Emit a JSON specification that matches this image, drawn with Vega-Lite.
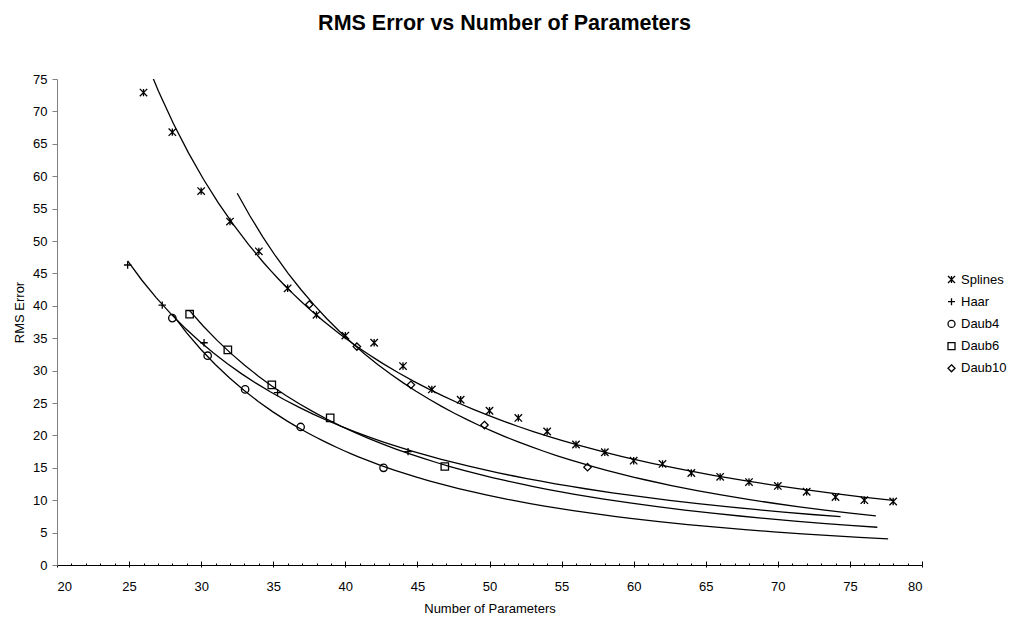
{
  "$schema": "https://vega.github.io/schema/vega-lite/v6.json",
  "width": 865,
  "height": 486,
  "autosize": {"type": "none"},
  "padding": {"left": 57, "top": 79, "right": 90, "bottom": 53},
  "background": "white",
  "title": {
    "text": "RMS Error vs Number of Parameters",
    "font": "Liberation Sans",
    "fontSize": 21.5,
    "fontWeight": "bold",
    "color": "black",
    "anchor": "middle",
    "baseline": "alphabetic",
    "dx": 15,
    "offset": 22
  },
  "config": {
    "view": {"stroke": null},
    "axis": {
      "grid": false,
      "labelFont": "Liberation Sans",
      "titleFont": "Liberation Sans",
      "labelColor": "black",
      "titleColor": "black",
      "titleFontWeight": "normal",
      "labelFontSize": 13,
      "titleFontSize": 13
    },
    "legend": {
      "labelFont": "Liberation Sans",
      "labelFontSize": 13,
      "labelColor": "black"
    }
  },
  "data": {
    "values": [
      {"series": "Splines", "n": 26, "rms": 72.9},
      {"series": "Splines", "n": 28, "rms": 66.8},
      {"series": "Splines", "n": 30, "rms": 57.7},
      {"series": "Splines", "n": 32, "rms": 53.0},
      {"series": "Splines", "n": 34, "rms": 48.4},
      {"series": "Splines", "n": 36, "rms": 42.7},
      {"series": "Splines", "n": 38, "rms": 38.6},
      {"series": "Splines", "n": 40, "rms": 35.4},
      {"series": "Splines", "n": 42, "rms": 34.3},
      {"series": "Splines", "n": 44, "rms": 30.7},
      {"series": "Splines", "n": 46, "rms": 27.1},
      {"series": "Splines", "n": 48, "rms": 25.5},
      {"series": "Splines", "n": 50, "rms": 23.8},
      {"series": "Splines", "n": 52, "rms": 22.7},
      {"series": "Splines", "n": 54, "rms": 20.6},
      {"series": "Splines", "n": 56, "rms": 18.6},
      {"series": "Splines", "n": 58, "rms": 17.4},
      {"series": "Splines", "n": 60, "rms": 16.1},
      {"series": "Splines", "n": 62, "rms": 15.6},
      {"series": "Splines", "n": 64, "rms": 14.2},
      {"series": "Splines", "n": 66, "rms": 13.6},
      {"series": "Splines", "n": 68, "rms": 12.8},
      {"series": "Splines", "n": 70, "rms": 12.2},
      {"series": "Splines", "n": 72, "rms": 11.3},
      {"series": "Splines", "n": 74, "rms": 10.5},
      {"series": "Splines", "n": 76, "rms": 10.0},
      {"series": "Splines", "n": 78, "rms": 9.8},
      {"series": "Haar", "n": 24.9, "rms": 46.3},
      {"series": "Haar", "n": 27.3, "rms": 40.1},
      {"series": "Haar", "n": 30.2, "rms": 34.3},
      {"series": "Haar", "n": 35.3, "rms": 26.6},
      {"series": "Haar", "n": 44.35, "rms": 17.5},
      {"series": "Daub4", "n": 28.0, "rms": 38.1},
      {"series": "Daub4", "n": 30.45, "rms": 32.3},
      {"series": "Daub4", "n": 33.05, "rms": 27.1},
      {"series": "Daub4", "n": 36.9, "rms": 21.3},
      {"series": "Daub4", "n": 42.65, "rms": 15.0},
      {"series": "Daub6", "n": 29.2, "rms": 38.7},
      {"series": "Daub6", "n": 31.85, "rms": 33.2},
      {"series": "Daub6", "n": 34.9, "rms": 27.8},
      {"series": "Daub6", "n": 38.95, "rms": 22.7},
      {"series": "Daub6", "n": 46.9, "rms": 15.2},
      {"series": "Daub10", "n": 37.5, "rms": 40.2},
      {"series": "Daub10", "n": 40.8, "rms": 33.7},
      {"series": "Daub10", "n": 44.55, "rms": 27.8},
      {"series": "Daub10", "n": 49.65, "rms": 21.6},
      {"series": "Daub10", "n": 56.8, "rms": 15.1}
    ]
  },
  "encoding": {
    "x": {
      "field": "n",
      "type": "quantitative",
      "scale": {"domain": [20, 80], "nice": false, "zero": false},
      "axis": {
        "orient": "bottom",
        "values": [20, 25, 30, 35, 40, 45, 50, 55, 60, 65, 70, 75, 80],
        "tickSize": 2,
        "tickColor": "black",
        "domainColor": "black",
        "labelPadding": 13,
        "title": "Number of Parameters",
        "titlePadding": 9
      }
    },
    "y": {
      "field": "rms",
      "type": "quantitative",
      "scale": {"domain": [0, 75], "nice": false, "zero": true},
      "axis": {
        "values": [0, 5, 10, 15, 20, 25, 30, 35, 40, 45, 50, 55, 60, 65, 70, 75],
        "tickSize": 5,
        "tickColor": "#808080",
        "domainColor": "#808080",
        "labelPadding": 5,
        "title": "RMS Error",
        "titlePadding": 6,
        "titleY": 233
      }
    }
  },
  "layer": [
    {
      "mark": {"type": "point", "filled": false, "color": "black", "strokeWidth": 1.3, "size": 55, "opacity": 1},
      "encoding": {
        "shape": {
          "field": "series",
          "type": "nominal",
          "scale": {
            "domain": ["Splines", "Haar", "Daub4", "Daub6", "Daub10"],
            "range": [
              "M-1,-1L1,1M-1,1L1,-1M0,-1L0,1",
              "M-1,0L1,0M0,-1L0,1",
              "M1,0A1,1,0,1,1,-1,0A1,1,0,1,1,1,0Z",
              "M-1,-1L1,-1L1,1L-1,1Z",
              "M0,-1L1,0L0,1L-1,0Z"
            ]
          },
          "legend": {
            "title": null,
            "orient": "none",
            "legendX": 888,
            "legendY": 194,
            "padding": 0,
            "rowPadding": 8.2,
            "labelOffset": 3,
            "symbolSize": 49,
            "symbolStrokeColor": "black",
            "symbolStrokeWidth": 1.3,
            "symbolFillColor": "transparent"
          }
        }
      }
    },
    {
      "transform": [
        {"filter": "datum.series === 'Splines'"},
        {"regression": "rms", "on": "n", "method": "pow", "extent": [26, 78]}
      ],
      "mark": {"type": "line", "clip": true, "color": "black", "strokeWidth": 1.3},
      "encoding": {
        "x": {
          "field": "n",
          "type": "quantitative",
          "scale": {"domain": [20, 80], "nice": false, "zero": false},
          "axis": {
            "orient": "bottom",
            "values": [20, 21, 22, 23, 24, 25, 26, 27, 28, 29, 30, 31, 32, 33, 34, 35, 36, 37, 38, 39, 40, 41, 42, 43, 44, 45, 46, 47, 48, 49, 50, 51, 52, 53, 54, 55, 56, 57, 58, 59, 60, 61, 62, 63, 64, 65, 66, 67, 68, 69, 70, 71, 72, 73, 74, 75, 76, 77, 78, 79, 80],
            "tickSize": {"condition": {"test": "datum.value % 5 === 0", "value": -4}, "value": -2},
            "tickColor": "black",
            "domain": false,
            "labels": false,
            "title": null
          }
        }
      }
    },
    {
      "transform": [
        {"filter": "datum.series === 'Haar'"},
        {"regression": "rms", "on": "n", "method": "pow", "extent": [24.9, 74.35]}
      ],
      "mark": {"type": "line", "clip": true, "color": "black", "strokeWidth": 1.3},
      "encoding": {
        "x": {"field": "n", "type": "quantitative", "scale": {"domain": [20, 80], "nice": false, "zero": false}, "axis": null}
      }
    },
    {
      "transform": [
        {"filter": "datum.series === 'Daub4'"},
        {"regression": "rms", "on": "n", "method": "pow", "extent": [28, 77.65]}
      ],
      "mark": {"type": "line", "clip": true, "color": "black", "strokeWidth": 1.3},
      "encoding": {
        "x": {"field": "n", "type": "quantitative", "scale": {"domain": [20, 80], "nice": false, "zero": false}, "axis": null}
      }
    },
    {
      "transform": [
        {"filter": "datum.series === 'Daub6'"},
        {"regression": "rms", "on": "n", "method": "pow", "extent": [29.2, 76.9]}
      ],
      "mark": {"type": "line", "clip": true, "color": "black", "strokeWidth": 1.3},
      "encoding": {
        "x": {"field": "n", "type": "quantitative", "scale": {"domain": [20, 80], "nice": false, "zero": false}, "axis": null}
      }
    },
    {
      "transform": [
        {"filter": "datum.series === 'Daub10'"},
        {"regression": "rms", "on": "n", "method": "pow", "extent": [32.5, 76.8]}
      ],
      "mark": {"type": "line", "clip": true, "color": "black", "strokeWidth": 1.3},
      "encoding": {
        "x": {"field": "n", "type": "quantitative", "scale": {"domain": [20, 80], "nice": false, "zero": false}, "axis": null}
      }
    }
  ],
  "resolve": {"axis": {"x": "independent"}}
}
